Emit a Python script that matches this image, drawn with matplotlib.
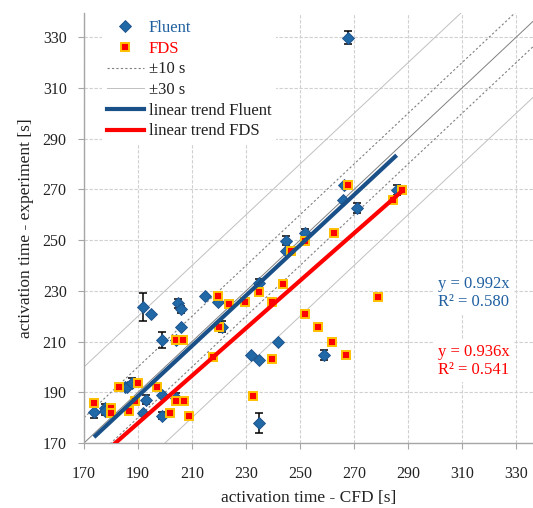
import numpy as np
import matplotlib.pyplot as plt
from matplotlib.lines import Line2D

plt.rcParams['font.family'] = ['Liberation Serif', 'DejaVu Serif']

# Fluent: CFD time, measured time, error bar (0 = no bar)
fluent_cfd = [173.7, 177.8, 177.8, 185.2, 186.0, 187.9, 192.0, 193.0, 198.8, 198.8,
              204.0, 191.7, 195.0, 198.9, 203.9, 204.9, 205.8, 205.8, 215.0, 219.7,
              221.0, 231.9, 234.9, 234.9, 234.9, 242.0, 244.8, 244.8, 251.9, 258.9,
              265.8, 266.4, 271.0, 285.8, 267.9]
fluent_exp = [182.1, 183.9, 182.7, 192.0, 192.0, 193.8, 181.7, 187.0, 188.9, 180.8,
              187.6, 223.8, 220.9, 210.6, 210.6, 225.1, 222.7, 215.9, 228.0, 225.5,
              215.9, 204.8, 202.7, 233.0, 177.8, 209.7, 249.8, 245.9, 252.7, 204.7,
              265.9, 271.8, 262.8, 269.8, 329.9]
fluent_err = [2.3, 1.5, 1.5, 0, 0, 1.8, 0, 1.8, 0, 1.5,
              2.0, 5.5, 0, 3.0, 1.5, 1.8, 1.5, 0, 0, 0,
              2.3, 0, 0, 1.7, 4.0, 0, 1.8, 0, 1.8, 1.8,
              0, 0, 2.0, 1.8, 2.7]

# FDS: CFD time, measured time
fds_cfd = [173.7, 179.9, 179.9, 183.1, 186.8, 188.9, 189.9, 196.9, 201.9, 203.9,
           206.9, 208.9, 203.9, 206.8, 217.9, 219.7, 220.0, 223.8, 229.8, 232.7,
           234.9, 239.8, 239.8, 243.8, 246.5, 251.9, 251.9, 256.8, 262.0, 262.7,
           266.9, 267.9, 279.0, 284.6, 287.6]
fds_exp = [185.7, 183.7, 181.7, 192.0, 182.7, 186.7, 193.8, 192.0, 181.7, 186.7,
           186.7, 180.8, 210.6, 210.6, 203.8, 228.0, 215.9, 224.8, 225.7, 188.7,
           229.7, 225.7, 203.0, 232.7, 245.9, 249.8, 220.8, 215.9, 209.7, 253.0,
           204.7, 271.8, 227.7, 265.9, 269.8]

# trend slopes and fit quality
fluent_slope, fluent_r2 = 0.992, 0.580
fds_slope, fds_r2 = 0.936, 0.541

ticks = [170, 190, 210, 230, 250, 270, 290, 310, 330]

blue = '#2068a6'
blue_dark = '#1a5088'
blue_text = '#2060a0'
red = '#ff0000'

fig = plt.figure(figsize=(5.33, 5.08), dpi=100)
ax = fig.add_axes([84 / 533, 65 / 508, 449 / 533, 430 / 508])
xmin, xmax = 170, 336.3
ymin, ymax = 170, 339.6
ax.set_xlim(xmin, xmax)
ax.set_ylim(ymin, ymax)

ax.set_xticks(ticks)
ax.set_yticks(ticks)
ax.grid(True, color='#d0d0d0', linestyle=(0, (3, 1.5)), linewidth=0.8)
ax.set_axisbelow(True)
for s in ['top', 'right']:
    ax.spines[s].set_visible(False)
for s in ['left', 'bottom']:
    ax.spines[s].set_color('#a6a6a6')
    ax.spines[s].set_linewidth(1.0)
ax.tick_params(axis='both', colors='#a6a6a6', labelcolor='#222222', length=4,
               width=0.8, labelsize=11.5, pad=8.5)
ax.tick_params(axis='x', pad=12.5)

# reference lines: 1:1, +-10 s, +-30 s
xx = np.array([xmin, xmax])
ax.plot(xx, xx, color='#808080', lw=0.7, zorder=1)
for d in (10, -10):
    ax.plot(xx, xx + d, color='#808080', lw=0.8, ls=(0, (2, 2)), zorder=1)
for d in (30, -30):
    ax.plot(xx, xx + d, color='#c0c0c0', lw=0.7, zorder=1)

# Fluent points with error bars
fx = np.array(fluent_cfd)
fy = np.array(fluent_exp)
fe = np.array(fluent_err)
m = fe > 0
ax.errorbar(fx[m], fy[m], yerr=fe[m], fmt='none', ecolor='black', elinewidth=1.1,
            capsize=3, capthick=1.1, zorder=3)
ax.plot(fx, fy, 'D', color=blue, mec=blue_dark, mew=0.6, ms=6.5, ls='none', zorder=4)

# FDS points
ax.plot(fds_cfd, fds_exp, 's', mfc=red, mec='#ffc000', mew=1.4, ms=6, ls='none', zorder=5)

# linear trends through the origin over each data range
tx = np.array([min(fluent_cfd), max(fluent_cfd)])
ax.plot(tx, fluent_slope * tx, color=blue_dark, lw=3, zorder=6, solid_capstyle='butt')
tx = np.array([min(fds_cfd), max(fds_cfd)])
ax.plot(tx, fds_slope * tx, color=red, lw=3, zorder=6, solid_capstyle='butt')

box = dict(boxstyle='square,pad=0.25', fc='white', ec='none')
ax.text(314.3, 229.2, f"y = {fluent_slope:.3f}x\nR² = {fluent_r2:.3f}", color=blue_text,
        fontsize=12, ha='center', va='center', bbox=box, zorder=7)
ax.text(314.3, 202.3, f"y = {fds_slope:.3f}x\nR² = {fds_r2:.3f}", color=red,
        fontsize=12, ha='center', va='center', bbox=box, zorder=7)

ax.set_xlabel('activation time - CFD [s]', fontsize=12.5, color='#222222', labelpad=6)
ax.set_ylabel('activation time - experiment [s]', fontsize=12.5, color='#222222', labelpad=6)

handles = [
    Line2D([], [], marker='D', color=blue, mec=blue_dark, mew=0.6, ms=6.5, ls='none'),
    Line2D([], [], marker='s', mfc=red, mec='#ffc000', mew=1.4, ms=6, ls='none'),
    Line2D([], [], color='#808080', lw=0.8, ls=(0, (2, 2))),
    Line2D([], [], color='#c0c0c0', lw=0.7),
    Line2D([], [], color=blue_dark, lw=3),
    Line2D([], [], color=red, lw=3),
]
labels = ['Fluent', 'FDS', '±10 s', '±30 s', 'linear trend Fluent', 'linear trend FDS']
leg = ax.legend(handles, labels, loc='upper left', bbox_to_anchor=(0.04, 0.995),
                borderaxespad=0, fontsize=12, frameon=True, fancybox=False,
                framealpha=1, edgecolor='none', facecolor='white',
                handlelength=2.2, handletextpad=0.3, labelspacing=0.28,
                borderpad=0.3, labelcolor=[blue_text, red, '#222222', '#222222',
                                           '#222222', '#222222'])
leg.set_zorder(8)

fig.savefig('out.png', dpi=100)
